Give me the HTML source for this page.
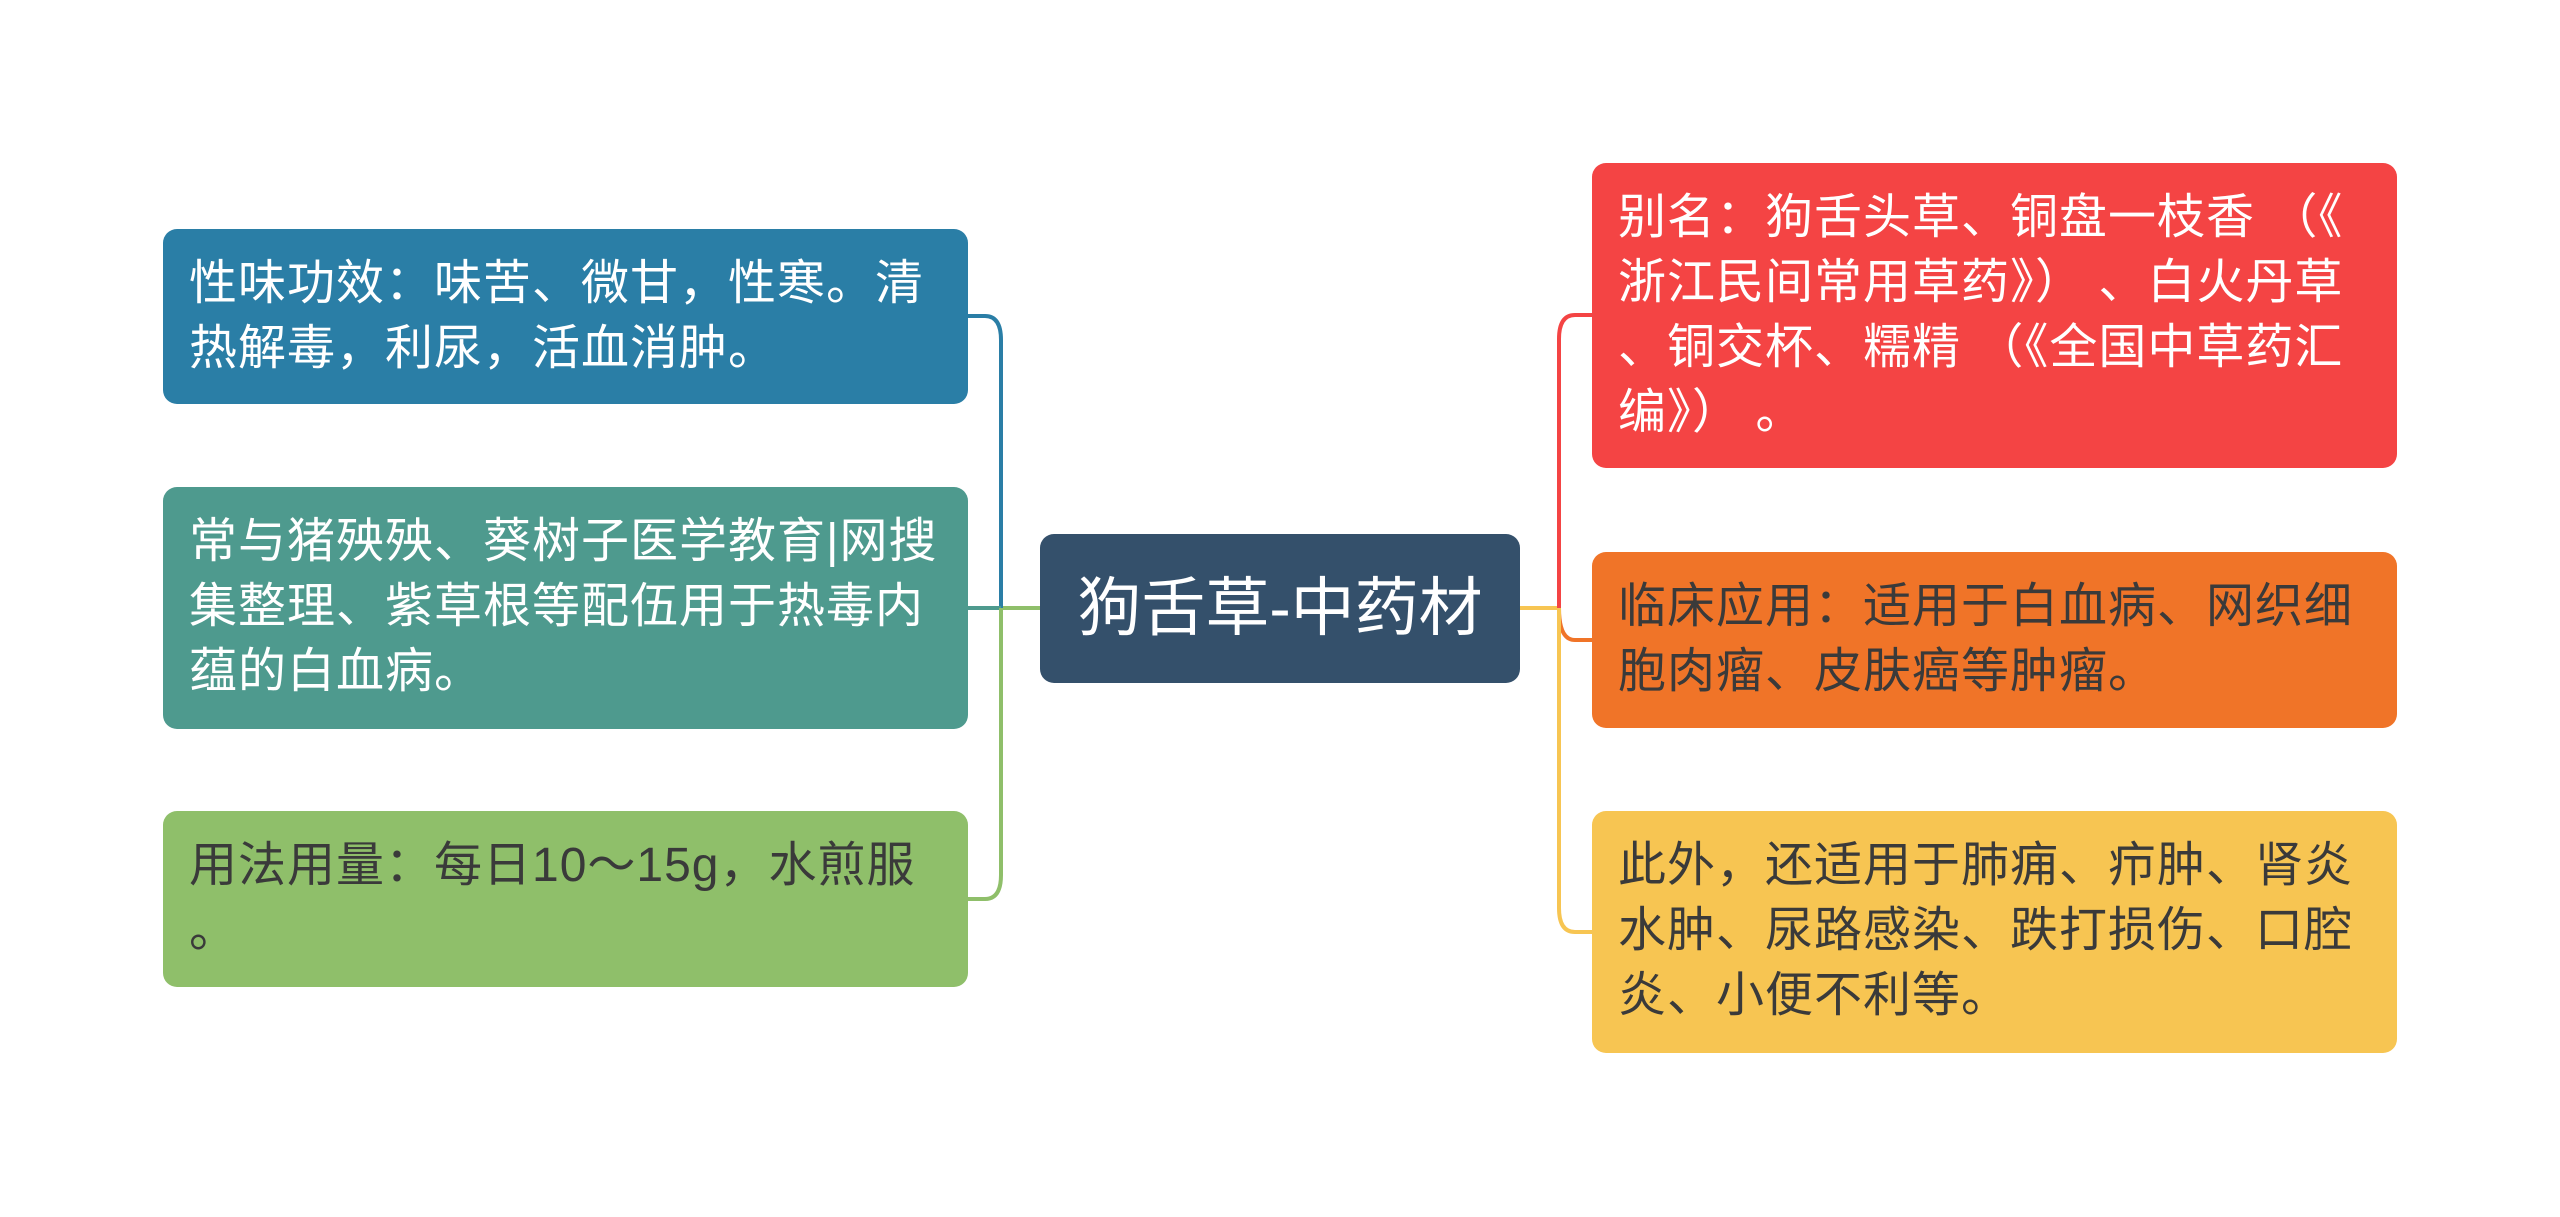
<!DOCTYPE html>
<html><head><meta charset="utf-8"><style>
body{margin:0;width:2560px;height:1217px;background:#fff;position:relative;overflow:hidden;font-family:"Liberation Sans","Noto Sans CJK SC",sans-serif}
.n{position:absolute;box-sizing:border-box;border-radius:14px;padding:22px 0 0 26px;font-size:48px;letter-spacing:1px;line-height:65px;white-space:nowrap}
.w{color:#fff}.d{color:#3a3a3a}
</style></head><body>
<svg width="2560" height="1217" style="position:absolute;left:0;top:0" fill="none" stroke-width="4">
<path d="M1040 608 H1001" stroke="#8fbf6a"/>
<path d="M1001 608 V340 Q1001 316 985 316 H968" stroke="#2a7ea6"/>
<path d="M1001 608 H968" stroke="#4e9a8e"/>
<path d="M1001 608 V875 Q1001 899 985 899 H968" stroke="#8fbf6a"/>
<path d="M1520 608 H1559" stroke="#f7c552"/>
<path d="M1559 608 V339 Q1559 315 1575 315 H1592" stroke="#f44444"/>
<path d="M1559 608 Q1559 640 1575 640 H1592" stroke="#f07428"/>
<path d="M1559 608 V908 Q1559 932 1575 932 H1592" stroke="#f7c552"/>
</svg>
<div class="n w" style="left:163px;top:229px;width:805px;height:175px;background:#2a7ea6">性味功效：味苦、微甘，性寒。清<br>热解毒，利尿，活血消肿。</div>
<div class="n w" style="left:163px;top:487px;width:805px;height:242px;background:#4e9a8e">常与猪殃殃、葵树子医学教育|网搜<br>集整理、紫草根等配伍用于热毒内<br>蕴的白血病。</div>
<div class="n d" style="left:163px;top:811px;width:805px;height:176px;background:#8fbf6a">用法用量：每日10～15g，水煎服<br>。</div>
<div class="n w" style="left:1040px;top:534px;width:480px;height:149px;background:#34506b;font-size:64px;line-height:149px;padding:0;text-align:center;letter-spacing:0">狗舌草-中药材</div>
<div class="n w" style="left:1592px;top:163px;width:805px;height:305px;background:#f44444">别名：狗舌头草、铜盘一枝香 （《<br>浙江民间常用草药》） 、白火丹草<br>、铜交杯、糯精 （《全国中草药汇<br>编》） 。</div>
<div class="n d" style="left:1592px;top:552px;width:805px;height:176px;background:#f07428">临床应用：适用于白血病、网织细<br>胞肉瘤、皮肤癌等肿瘤。</div>
<div class="n d" style="left:1592px;top:811px;width:805px;height:242px;background:#f7c552">此外，还适用于肺痈、疖肿、肾炎<br>水肿、尿路感染、跌打损伤、口腔<br>炎、小便不利等。</div>
</body></html>
